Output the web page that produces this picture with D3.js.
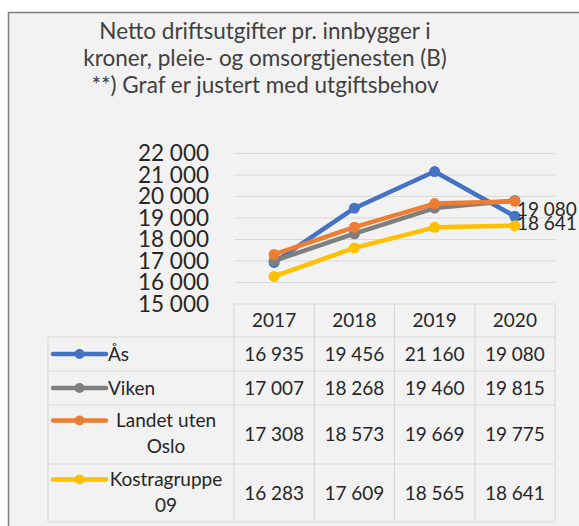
<!DOCTYPE html>
<html>
<head>
<meta charset="utf-8">
<script src="https://cdn.jsdelivr.net/npm/d3@7"></script>
<style>
  body { margin: 0; background: #fff; }
  svg text { font-family: Lato, "Open Sans", sans-serif; }
</style>
</head>
<body>
<svg id="chart" width="579" height="526"></svg>
<script>
// data
var years = ["2017", "2018", "2019", "2020"];
var series = ["Ås", "Viken", "Landet uten Oslo", "Kostragruppe 09"];
var seriesLines = [["Ås"], ["Viken"], ["Landet uten", "Oslo"], ["Kostragruppe", "09"]];
var colors = ["#4472c4", "#7f7f7f", "#ed7d31", "#ffc000"];
var asVals = [16935, 19456, 21160, 19080];
var vikenVals = [17007, 18268, 19460, 19815];
var landetVals = [17308, 18573, 19669, 19775];
var kostraVals = [16283, 17609, 18565, 18641];
var values = [asVals, vikenVals, landetVals, kostraVals];
var yTicks = [15000, 16000, 17000, 18000, 19000, 20000, 21000, 22000];
var titleLines = ["Netto driftsutgifter pr. innbygger i", "kroner, pleie- og omsorgtjenesten (B)", "**) Graf er justert med utgiftsbehov"];
// end labels shown only on two series
var endLabels = [{ s: 0, dy: -7 }, { s: 3, dy: -2 }];

var fmt = function (v) { return d3.format(",")(v).replace(/,/g, " "); };

var svg = d3.select("#chart");

// frame
svg.append("rect").attr("x", 8.5).attr("y", 12.5).attr("width", 600).attr("height", 600)
    .attr("fill", "#f2f2f2").attr("stroke", "#7f7f7f").attr("stroke-width", 1.5);

// title
svg.append("g").selectAll("text").data(titleLines).enter().append("text")
    .attr("x", 265).attr("y", function (d, i) { return 38.5 + i * 27; })
    .attr("text-anchor", "middle").attr("font-size", 22.5).attr("fill", "#404040")
    .text(function (d) { return d; });

var x = d3.scaleBand().domain(years).range([234, 555]);
var y = d3.scaleLinear().domain([15000, 22000]).range([304, 153.5]);

// gridlines
svg.append("g").selectAll("line").data(yTicks.slice(1)).enter().append("line")
    .attr("x1", 234).attr("x2", 555)
    .attr("y1", function (d) { return y(d); }).attr("y2", function (d) { return y(d); })
    .attr("stroke", "#d9d9d9").attr("stroke-width", 1);

// y axis labels
var yAxis = d3.axisLeft(y).tickValues(yTicks).tickFormat(fmt).tickSize(0).tickPadding(0);
var ya = svg.append("g").attr("transform", "translate(209,0)").call(yAxis);
ya.select(".domain").remove();
ya.selectAll("text").attr("font-size", 22.5).attr("fill", "#262626")
    .attr("font-family", "Lato, sans-serif");

// lines
var line = d3.line()
    .x(function (d, i) { return x(years[i]) + x.bandwidth() / 2; })
    .y(function (d) { return y(d); });

values.forEach(function (vals, s) {
    var g = svg.append("g");
    g.append("path").attr("d", line(vals)).attr("fill", "none")
        .attr("stroke", colors[s]).attr("stroke-width", 4.5).attr("stroke-linejoin", "round");
    g.selectAll("circle").data(vals).enter().append("circle")
        .attr("cx", function (d, i) { return x(years[i]) + x.bandwidth() / 2; })
        .attr("cy", function (d) { return y(d); })
        .attr("r", 5.5).attr("fill", colors[s]);
});

// end labels
svg.append("g").selectAll("text").data(endLabels).enter().append("text")
    .attr("x", x("2020") + x.bandwidth() / 2 + 2)
    .attr("y", function (d) { return y(values[d.s][3]) + d.dy; })
    .attr("dy", "0.35em").attr("font-size", 19).attr("fill", "#262626")
    .text(function (d) { return fmt(values[d.s][3]); });

// data table
var rowEdges = [304, 337, 371, 405, 464, 522];
var tableLeft = 48, keyRight = 234, tableRight = 555;
var tg = svg.append("g").attr("stroke", "#d9d9d9").attr("stroke-width", 1.2);
rowEdges.forEach(function (ry, i) {
    tg.append("line").attr("x1", i === 0 ? keyRight : tableLeft).attr("x2", tableRight)
        .attr("y1", ry).attr("y2", ry);
});
[tableLeft].concat(years.map(function (d) { return x(d); })).concat([tableRight]).forEach(function (cx, i) {
    tg.append("line").attr("x1", cx).attr("x2", cx)
        .attr("y1", i === 0 ? rowEdges[1] : rowEdges[0]).attr("y2", rowEdges[5]);
});

// header
svg.append("g").selectAll("text").data(years).enter().append("text")
    .attr("x", function (d) { return x(d) + x.bandwidth() / 2; })
    .attr("y", (rowEdges[0] + rowEdges[1]) / 2).attr("dy", "0.35em")
    .attr("text-anchor", "middle").attr("font-size", 19).attr("fill", "#262626")
    .text(function (d) { return d; });

// rows
values.forEach(function (vals, s) {
    var top = rowEdges[s + 1], bot = rowEdges[s + 2], mid = (top + bot) / 2;
    var g = svg.append("g");
    var keyY = seriesLines[s].length > 1 ? top + 15.5 : mid;
    g.append("line").attr("x1", 53).attr("x2", 106).attr("y1", keyY).attr("y2", keyY)
        .attr("stroke", colors[s]).attr("stroke-width", 4.5).attr("stroke-linecap", "round");
    g.append("circle").attr("cx", 79.5).attr("cy", keyY).attr("r", 5).attr("fill", colors[s]);
    if (seriesLines[s].length === 1) {
        g.append("text").attr("x", 108).attr("y", mid).attr("dy", "0.35em")
            .attr("font-size", 19).attr("fill", "#262626").text(seriesLines[s][0]);
    } else {
        g.selectAll("text.lbl").data(seriesLines[s]).enter().append("text")
            .attr("x", 166).attr("y", function (d, i) { return top + 15.5 + i * 26; })
            .attr("dy", "0.35em").attr("text-anchor", "middle")
            .attr("font-size", 19).attr("fill", "#262626").text(function (d) { return d; });
    }
    g.selectAll("text.val").data(vals).enter().append("text")
        .attr("x", function (d, i) { return x(years[i]) + x.bandwidth() / 2; })
        .attr("y", mid).attr("dy", "0.35em").attr("text-anchor", "middle")
        .attr("font-size", 19).attr("fill", "#262626")
        .text(function (d) { return fmt(d); });
});
</script>
</body>
</html>
